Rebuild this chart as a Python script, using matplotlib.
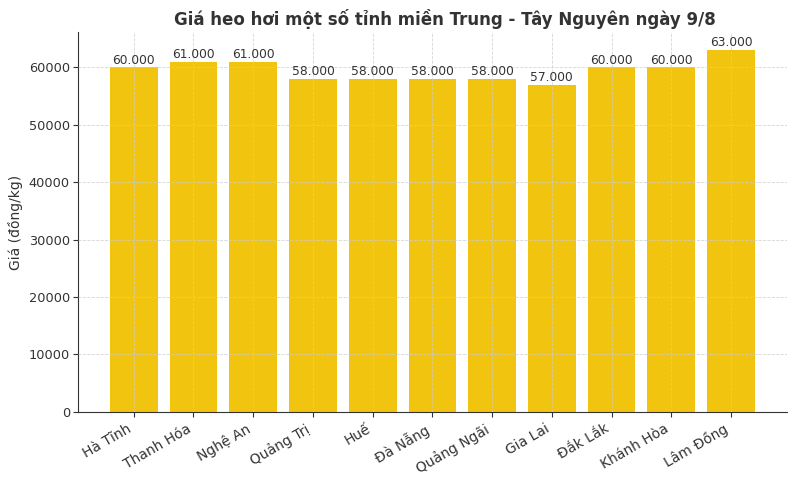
import matplotlib.pyplot as plt

provinces = ['Hà Tĩnh', 'Thanh Hóa', 'Nghệ An', 'Quảng Trị', 'Huế', 'Đà Nẵng',
             'Quảng Ngãi', 'Gia Lai', 'Đắk Lắk', 'Khánh Hòa', 'Lâm Đồng']
prices = [60000, 61000, 61000, 58000, 58000, 58000, 58000, 57000, 60000, 60000, 63000]
price_labels = ['60.000', '61.000', '61.000', '58.000', '58.000', '58.000',
                '58.000', '57.000', '60.000', '60.000', '63.000']

plt.rcParams['font.family'] = ['DejaVu Sans']
plt.rcParams['text.color'] = '#333333'
plt.rcParams['axes.labelcolor'] = '#333333'
plt.rcParams['xtick.color'] = '#333333'
plt.rcParams['ytick.color'] = '#333333'

fig, ax = plt.subplots(figsize=(8, 4.8), dpi=100)
bars = ax.bar(provinces, prices, width=0.8, color='#f1c40f')

for b, lab in zip(bars, price_labels):
    ax.text(b.get_x() + b.get_width() / 2, b.get_height() + 150, lab,
            ha='center', va='bottom', fontsize=8.8, color='#333333')

ax.set_title('Giá heo hơi một số tỉnh miền Trung - Tây Nguyên ngày 9/8',
             fontsize=12, fontweight='bold', color='#333333', x=0.518, pad=5)
ax.set_ylabel('Giá (đồng/kg)', fontsize=10, labelpad=4)
ax.grid(True, linestyle='--', linewidth=0.6, color='#cccccc', alpha=0.8)
ax.set_axisbelow(False)
ax.spines['top'].set_visible(False)
ax.spines['right'].set_visible(False)
ax.spines['left'].set_color('#333333')
ax.spines['bottom'].set_color('#333333')
ax.tick_params(axis='y', labelsize=9.3, pad=2)
ax.tick_params(axis='x', labelsize=10)
plt.xticks(rotation=30, ha='right')

plt.subplots_adjust(left=0.097, right=0.984, top=0.933, bottom=0.142)
plt.savefig('out.png')
